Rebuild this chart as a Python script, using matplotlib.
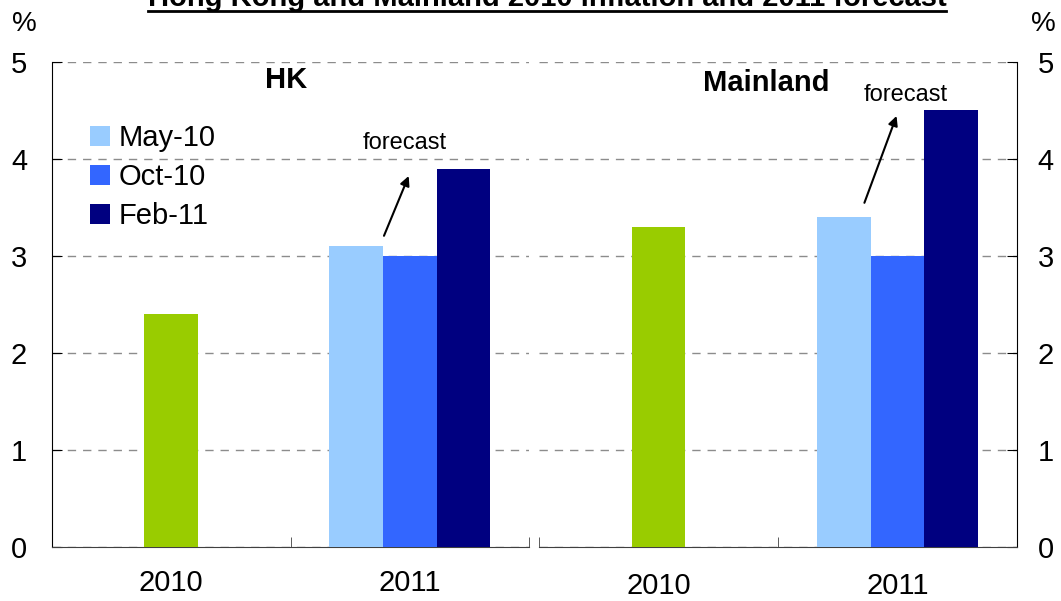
import matplotlib
matplotlib.use("Agg")
import matplotlib.pyplot as plt
from matplotlib.lines import Line2D

plt.rcParams['font.family'] = ['Liberation Sans', 'DejaVu Sans']

# datos
anios = ['2010', '2011']
series = ['May-10', 'Oct-10', 'Feb-11']
hk_2010 = 2.4
hk_2011 = [3.1, 3.0, 3.9]
ml_2010 = 3.3
ml_2011 = [3.4, 3.0, 4.5]
paneles = ['HK', 'Mainland']

verde = '#99CC00'
azules = ['#99CCFF', '#3366FF', '#000080']
ancho = 0.225

fig = plt.figure(figsize=(10.61, 6.01), dpi=100)
W, H = 1061, 601
ax1 = fig.add_axes([52 / W, (H - 546.5) / H, 477 / W, 484.5 / H])
ax2 = fig.add_axes([539 / W, (H - 546.5) / H, 478 / W, 484.5 / H])


def dibujar_panel(ax, actual, pronos, nombre, lado, xnom, ynom, pad_x):
    ax.bar(0, actual, width=ancho, color=verde, zorder=3)
    barras = []
    for i, (v, c) in enumerate(zip(pronos, azules)):
        b = ax.bar(1 + (i - 1) * ancho, v, width=ancho, color=c, zorder=3, label=series[i])
        barras.append(b)
    ax.set_xlim(-0.5, 1.5)
    ax.set_ylim(0, 5)
    ax.set_yticks(range(0, 6))
    ax.yaxis.grid(True, color='#8c8c8c', linestyle=(0, (6, 5)), linewidth=1, zorder=0)
    ax.set_axisbelow(True)
    for s in ['top', 'left', 'right']:
        ax.spines[s].set_visible(False)
    ax.spines['bottom'].set_color('#404040')
    ax.set_xticks([0, 1])
    ax.set_xticklabels(anios, fontsize=21)
    ax.tick_params(axis='x', length=0, pad=pad_x)
    if lado == 'left':
        ax.set_xticks([0.5, 1.5], minor=True)
        ax.spines['left'].set_visible(True)
        ax.tick_params(axis='y', direction='in', length=7, labelsize=21, pad=18,
                       left=True, right=False, labelleft=True, labelright=False)
    else:
        ax.set_xticks([-0.5, 0.5], minor=True)
        ax.spines['right'].set_visible(True)
        ax.tick_params(axis='y', direction='in', length=7, labelsize=21, pad=15,
                       left=False, right=True, labelleft=False, labelright=True)
    ax.tick_params(axis='x', which='minor', direction='in', length=7, color='#404040')
    ax.text(xnom, ynom, nombre, ha='center', va='center', fontsize=21, fontweight='bold')
    return barras


barras = dibujar_panel(ax1, hk_2010, hk_2011, 'HK', 'left', 0.48, 4.81, 16)
dibujar_panel(ax2, ml_2010, ml_2011, 'Mainland', 'right', 0.45, 4.78, 18)

# anotaciones "forecast"
ax1.annotate('', xy=(1.0, hk_2011[2] - 0.05), xytext=(1 - ancho / 2, hk_2011[0] + 0.08),
             arrowprops=dict(arrowstyle='-|>', color='black', lw=1.5, mutation_scale=14))
ax1.text(0.98, 4.16, 'forecast', ha='center', va='center', fontsize=17)
ax2.annotate('', xy=(1.0, ml_2011[2] - 0.03), xytext=(1 - ancho / 2 - 0.03, ml_2011[0] + 0.12),
             arrowprops=dict(arrowstyle='-|>', color='black', lw=1.5, mutation_scale=14))
ax2.text(1.036, 4.66, 'forecast', ha='center', va='center', fontsize=17)

ax1.legend(handles=barras, loc='upper left', bbox_to_anchor=(0.08, 0.872), frameon=False,
           fontsize=21, handlelength=0.68, handleheight=0.68, handletextpad=0.3,
           labelspacing=0.38, borderpad=0, borderaxespad=0)

fig.text(24 / W, (H - 24) / H, '%', ha='center', va='center', fontsize=20)
fig.text(1043 / W, (H - 24) / H, '%', ha='center', va='center', fontsize=20)

titulo = fig.text(547 / W, (H - 6) / H, 'Hong Kong and Mainland 2010 inflation and 2011 forecast',
                  ha='center', va='baseline', fontsize=21, fontweight='bold')
fig.canvas.draw()
bb = titulo.get_window_extent().transformed(fig.transFigure.inverted())
fig.add_artist(Line2D([bb.x0, bb.x1], [(H - 11) / H, (H - 11) / H], color='black', lw=2,
                      transform=fig.transFigure))

fig.savefig('out.png', dpi=100)
